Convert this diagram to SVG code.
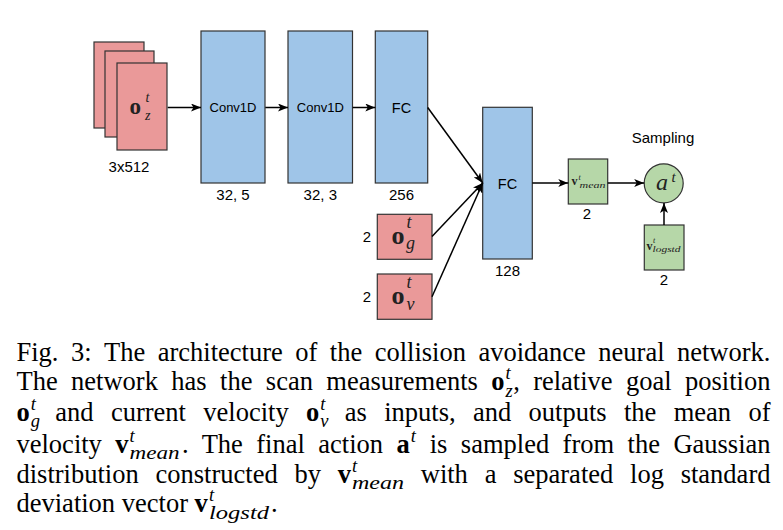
<svg xmlns="http://www.w3.org/2000/svg" width="783" height="530" viewBox="0 0 783 530">
<style>
.red{fill:#EA9999;stroke:#333;stroke-width:1.2}
.blue{fill:#9FC5E8;stroke:#333;stroke-width:1.2}
.green{fill:#B6D7A8;stroke:#333;stroke-width:1.2}
.lbl{font-family:"Liberation Sans",Arial,sans-serif;font-size:15px;fill:#000;text-anchor:middle}
.in{font-size:13px}
.fc{font-size:14.5px}
.m{font-family:"Liberation Serif","Times New Roman",serif;fill:#222}
.b{font-weight:bold}
.i{font-style:italic}
.cap{font-family:"Liberation Serif","Times New Roman",serif;font-size:26.5px;fill:#000}
.cs{font-size:18.5px;font-style:italic}
.edge{stroke:#000;stroke-width:1.5;fill:none;marker-end:url(#arr)}
</style>
<defs>
<marker id="arr" markerWidth="10" markerHeight="8" refX="10" refY="4" orient="auto" markerUnits="userSpaceOnUse">
<path d="M0,0 L10,4 L0,8 L2.5,4 z" fill="#000"/>
</marker>
</defs>
<rect width="783" height="530" fill="#fff"/>

<g id="node-oz">
<rect class="red" x="94" y="42" width="50" height="86"/>
<rect class="red" x="105" y="51" width="49" height="86"/>
<rect class="red" x="117" y="63" width="50" height="87"/>
<text class="m b" x="129.5" y="114" font-size="23">o</text>
<text class="m i" x="145.5" y="101.5" font-size="14">t</text>
<text class="m i" x="145" y="120" font-size="14">z</text>
<text class="lbl" x="129" y="171.5">3x512</text>
</g>

<g id="node-conv1">
<rect class="blue" x="201" y="31" width="64" height="152"/>
<text class="lbl in" x="233" y="112.3">Conv1D</text>
<text class="lbl" x="233" y="200">32, 5</text>
</g>

<g id="node-conv2">
<rect class="blue" x="288" y="31" width="64.5" height="152"/>
<text class="lbl in" x="320.3" y="112.3">Conv1D</text>
<text class="lbl" x="320.3" y="200">32, 3</text>
</g>

<g id="node-fc256">
<rect class="blue" x="375.3" y="31" width="52.4" height="152"/>
<text class="lbl fc" x="401.5" y="112.6">FC</text>
<text class="lbl" x="401.5" y="200">256</text>
</g>

<g id="node-og">
<rect class="red" x="377.3" y="214.3" width="54.7" height="45"/>
<text class="m b" x="391.5" y="243.5" font-size="26">o</text>
<text class="m i" x="406.5" y="227.5" font-size="18">t</text>
<text class="m i" x="406" y="248.5" font-size="18">g</text>
<text class="lbl" x="367" y="241.7">2</text>
</g>

<g id="node-ov">
<rect class="red" x="377.3" y="274" width="54.7" height="45.3"/>
<text class="m b" x="391.5" y="303.5" font-size="26">o</text>
<text class="m i" x="406.5" y="287.5" font-size="18">t</text>
<text class="m i" x="406.5" y="310" font-size="18">v</text>
<text class="lbl" x="367" y="302">2</text>
</g>

<g id="node-fc128">
<rect class="blue" x="482.7" y="107.3" width="49.6" height="151.7"/>
<text class="lbl fc" x="507.5" y="189">FC</text>
<text class="lbl" x="507.5" y="276">128</text>
</g>

<g id="node-vmean">
<rect class="green" x="568.3" y="159" width="39.4" height="45"/>
<text class="m b" x="571.5" y="185" font-size="12" fill="#444">v</text>
<text class="m i" x="578.5" y="179.5" font-size="8" fill="#444">t</text>
<text class="m i" x="579.5" y="187.5" font-size="8.5" fill="#444" textLength="26" lengthAdjust="spacingAndGlyphs">mean</text>
<text class="lbl" x="587" y="219">2</text>
</g>

<g id="node-at">
<circle class="green" cx="663.7" cy="183.3" r="19.5"/>
<text class="m i" x="656" y="190" font-size="24" fill="#333">a</text>
<text class="m i" x="671.5" y="181.5" font-size="15" fill="#333">t</text>
<text class="lbl" x="663" y="143.4">Sampling</text>
</g>

<g id="node-vlogstd">
<rect class="green" x="644.3" y="225" width="39.7" height="45"/>
<text class="m b" x="646.5" y="250" font-size="12" fill="#444">v</text>
<text class="m i" x="653" y="242.5" font-size="8" fill="#444">t</text>
<text class="m i" x="652.5" y="252" font-size="8.5" fill="#444" textLength="28" lengthAdjust="spacingAndGlyphs">logstd</text>
<text class="lbl" x="664" y="285">2</text>
</g>

<g id="connectors">
<line class="edge" x1="167.7" y1="107.5" x2="201" y2="107.5"/>
<line class="edge" x1="265.3" y1="107.5" x2="288" y2="107.5"/>
<line class="edge" x1="352.7" y1="107.5" x2="375.3" y2="107.5"/>
<line class="edge" x1="427.7" y1="107.5" x2="482.7" y2="183"/>
<line class="edge" x1="432" y1="236.5" x2="482.7" y2="183"/>
<line class="edge" x1="432" y1="296.7" x2="482.7" y2="183"/>
<line class="edge" x1="532.3" y1="183" x2="568.3" y2="183"/>
<line class="edge" x1="607.7" y1="183" x2="644.2" y2="183"/>
<line class="edge" x1="664" y1="225" x2="664" y2="203"/>
</g>

<g id="caption">
<text class="cap" y="361"><tspan x="16.5">Fig.</tspan><tspan x="70.95">3:</tspan><tspan x="104.04">The</tspan><tspan x="157.72">architecture</tspan><tspan x="295.27">of</tspan><tspan x="329.81">the</tspan><tspan x="374.66">collision</tspan><tspan x="478.42">avoidance</tspan><tspan x="598.32">neural</tspan><tspan x="677.01">network.</tspan></text>

<text class="cap" y="390"><tspan x="16.5">The</tspan><tspan x="71.11">network</tspan><tspan x="171.35">has</tspan><tspan x="220.07">the</tspan><tspan x="265.85">scan</tspan><tspan x="326.34">measurements</tspan><tspan x="491.35" font-weight="bold">o</tspan><tspan class="cs" x="505.6" y="379">t</tspan><tspan class="cs" x="505.6" y="396.5">z</tspan><tspan x="513.2" y="390">,</tspan><tspan x="533.15">relative</tspan><tspan x="626.02">goal</tspan><tspan x="685.05">position</tspan></text>

<text class="cap" y="420.5"><tspan x="16.5" font-weight="bold">o</tspan><tspan class="cs" x="30.75" y="409.5">t</tspan><tspan class="cs" x="30.75" y="426.5">g</tspan><tspan x="55.33" y="420.5">and</tspan><tspan x="110.93">current</tspan><tspan x="203.31">velocity</tspan><tspan x="306.02" font-weight="bold">o</tspan><tspan class="cs" x="320.3" y="409.5">t</tspan><tspan class="cs" x="320.3" y="426.5">v</tspan><tspan x="344.85" y="420.5">as</tspan><tspan x="384.25">inputs,</tspan><tspan x="473">and</tspan><tspan x="528.6">outputs</tspan><tspan x="623.97">the</tspan><tspan x="673.68">mean</tspan><tspan x="748.41">of</tspan></text>

<text class="cap" y="452.5"><tspan x="16.5">velocity</tspan><tspan x="115.32" font-weight="bold">v</tspan><tspan class="cs" x="129.6" y="441.5">t</tspan><tspan class="cs" x="129.6" y="459" textLength="50" lengthAdjust="spacingAndGlyphs">mean</tspan><tspan x="182" y="452.5">.</tspan><tspan x="201.66">The</tspan><tspan x="256.31">final</tspan><tspan x="318.32">action</tspan><tspan x="396.53" font-weight="bold">a</tspan><tspan class="cs" x="410.8" y="441.5">t</tspan><tspan x="429.72" y="452.5">is</tspan><tspan x="460.84">sampled</tspan><tspan x="562.6">from</tspan><tspan x="627.56">the</tspan><tspan x="673.38">Gaussian</tspan></text>

<text class="cap" y="482.5"><tspan x="16.5">distribution</tspan><tspan x="155.5">constructed</tspan><tspan x="294.45">by</tspan><tspan x="337.73" font-weight="bold">v</tspan><tspan class="cs" x="352" y="471.5">t</tspan><tspan class="cs" x="352" y="489" textLength="52" lengthAdjust="spacingAndGlyphs">mean</tspan><tspan x="420.76" y="482.5">with</tspan><tspan x="484.66">a</tspan><tspan x="513.21">separated</tspan><tspan x="630.05">log</tspan><tspan x="680.7">standard</tspan></text>

<text class="cap" y="512"><tspan x="16.5">deviation</tspan><tspan x="121.76">vector</tspan><tspan x="194.6" font-weight="bold">v</tspan><tspan class="cs" x="209" y="501">t</tspan><tspan class="cs" x="209" y="518.5" textLength="60" lengthAdjust="spacingAndGlyphs">logstd</tspan><tspan x="271" y="512">.</tspan></text>
</g>
</svg>
